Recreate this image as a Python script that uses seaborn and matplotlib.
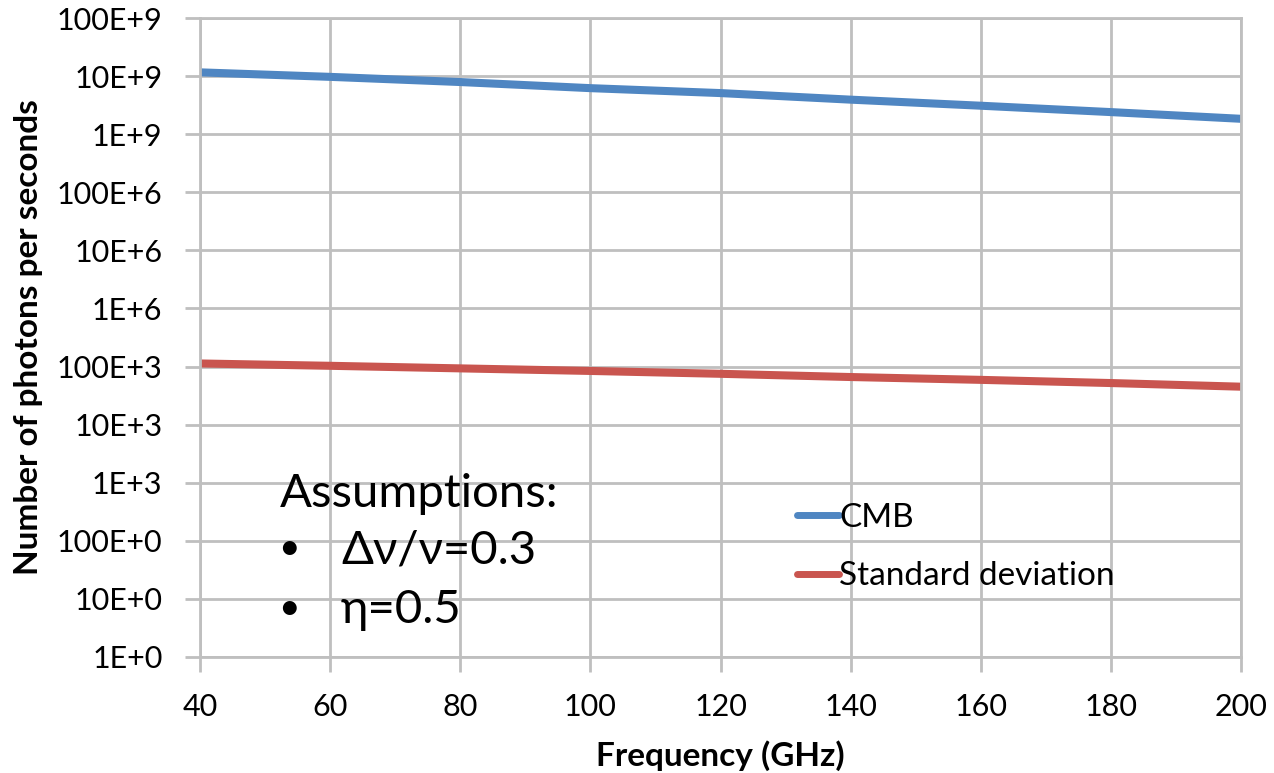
import matplotlib
matplotlib.use("Agg")
import matplotlib.pyplot as plt
import seaborn as sns
import pandas as pd

# ---- data ----
freq_ghz = [40, 60, 80, 100, 120, 140, 160, 180, 200]
cmb = [1.16e10, 9.7e9, 7.9e9, 6.2e9, 5.1e9, 3.93e9, 3.09e9, 2.4e9, 1.84e9]
std_dev = [1.13e5, 1.03e5, 9.3e4, 8.4e4, 7.5e4, 6.6e4, 5.9e4, 5.2e4, 4.5e4]
series_names = ["CMB", "Standard deviation"]
y_tick_values = [1e0, 1e1, 1e2, 1e3, 1e4, 1e5, 1e6, 1e7, 1e8, 1e9, 1e10, 1e11]
y_tick_labels = ["1E+0", "10E+0", "100E+0", "1E+3", "10E+3", "100E+3",
                 "1E+6", "10E+6", "100E+6", "1E+9", "10E+9", "100E+9"]
x_tick_values = [40, 60, 80, 100, 120, 140, 160, 180, 200]
assumption_title = "Assumptions:"
assumption_items = ["\u0394\u03bd/\u03bd=0.3", "\u03b7=0.5"]

df = pd.DataFrame({
    "Frequency": freq_ghz * 2,
    "Photons": cmb + std_dev,
    "Series": [series_names[0]] * len(freq_ghz) + [series_names[1]] * len(freq_ghz),
})

sns.set_theme(style="whitegrid")
plt.rcParams["font.family"] = ["Lato", "DejaVu Sans"]
plt.rcParams["text.color"] = "black"
plt.rcParams["axes.labelcolor"] = "black"

W, H = 1274, 773
fig = plt.figure(figsize=(W / 100, H / 100), dpi=100)
ax = fig.add_axes([200 / W, 1 - 657 / H, (1241 - 200) / W, (657 - 18) / H])

grid_c = "#BFBFBF"
palette = {"CMB": "#4F86C2", "Standard deviation": "#C9554F"}
sns.lineplot(data=df, x="Frequency", y="Photons", hue="Series", palette=palette,
             linewidth=5.8, ax=ax, legend=True)

ax.set_yscale("log")
ax.set_xlim(40, 200)
ax.set_ylim(1, 1e11)
ax.set_yticks(y_tick_values)
ax.set_yticklabels(y_tick_labels)
ax.set_xticks(x_tick_values)
ax.set_xticklabels([str(v) for v in x_tick_values])
ax.minorticks_off()

ax.grid(True, color=grid_c, linewidth=2)
for s in ax.spines.values():
    s.set_color(grid_c)
    s.set_linewidth(2)
ax.tick_params(axis="both", which="major", length=11, width=2, color=grid_c,
               labelsize=22, labelcolor="black", direction="out")
ax.tick_params(axis="y", left=True, pad=16)
ax.tick_params(axis="x", bottom=True, pad=15)

ax.set_xlabel("Frequency (GHz)", fontsize=24, fontweight="bold", labelpad=14, color="black")
ax.set_ylabel("Number of photons per seconds", fontsize=24, fontweight="bold", labelpad=10,
              color="black")

leg = ax.legend(loc="upper left", bbox_to_anchor=(797 / W, 1 - 503 / H),
                bbox_transform=fig.transFigure, frameon=False, fontsize=24,
                handlelength=1.26, handletextpad=0.0, borderpad=0, borderaxespad=0,
                labelspacing=0.85)
for line in leg.get_lines():
    line.set_linewidth(5)
for t in leg.get_texts():
    t.set_color("black")

fs_a = 34
fig.text(280 / W, 1 - 507 / H, assumption_title, fontsize=fs_a, va="baseline", ha="left",
         color="black")
for base_y, item in zip([563, 623], assumption_items):
    fig.text(278 / W, 1 - (base_y - 4) / H, "\u2022", fontsize=27, va="baseline", ha="left",
             color="black")
    fig.text(341 / W, 1 - base_y / H, item, fontsize=fs_a, va="baseline", ha="left",
             color="black")

fig.savefig("out.png", dpi=100)
